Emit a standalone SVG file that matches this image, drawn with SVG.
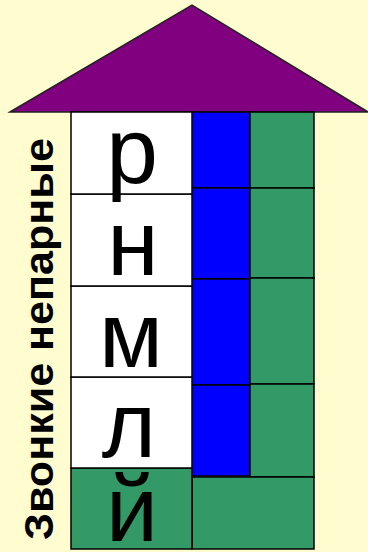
<svg xmlns="http://www.w3.org/2000/svg" width="368" height="552" viewBox="0 0 368 552">
<style>
.c{stroke:#000;stroke-width:1.5}
.w{fill:#fff}
.b{fill:#0000ff}
.g{fill:#339966}
.big{font-family:"Liberation Sans",Arial,sans-serif;font-size:93px;fill:#000;text-anchor:middle}
.side{font-family:"Liberation Sans",Arial,sans-serif;font-size:40px;font-weight:bold;fill:#000}
</style>
<defs>
<clipPath id="clipY"><rect x="71" y="468" width="121" height="81"/></clipPath>
</defs>
<rect x="0" y="0" width="368" height="552" fill="#fffcd0"/>
<g id="roof">
<polygon points="10,112 192,5 368,112" fill="#800080" stroke="#222" stroke-width="1.5"/>
</g>
<g id="blue-1"><rect class="c b" x="192" y="112" width="58" height="76"/></g>
<g id="blue-2"><rect class="c b" x="192" y="188" width="58" height="91"/></g>
<g id="blue-3"><rect class="c b" x="192" y="279" width="58" height="106"/></g>
<g id="blue-4"><rect class="c b" x="192" y="385" width="58" height="91"/></g>
<g id="green-1"><rect class="c g" x="250" y="112" width="64" height="76"/></g>
<g id="green-2"><rect class="c g" x="250" y="188" width="64" height="90"/></g>
<g id="green-3"><rect class="c g" x="250" y="278" width="64" height="106"/></g>
<g id="green-4"><rect class="c g" x="250" y="384" width="64" height="93"/></g>
<g id="green-bottom"><rect class="c g" x="192" y="477" width="122" height="72"/></g>
<g id="cell-j">
<rect class="c g" x="71" y="468" width="121" height="81"/>
<text class="big" x="132" y="541" clip-path="url(#clipY)">й</text>
</g>
<g id="cell-l">
<rect class="c w" x="71" y="377" width="121" height="91"/>
<text class="big" x="129" y="457">л</text>
</g>
<g id="cell-m">
<rect class="c w" x="71" y="286" width="121" height="91"/>
<text class="big" x="131" y="367">м</text>
</g>
<g id="cell-n">
<rect class="c w" x="71" y="194" width="121" height="92"/>
<text class="big" x="133" y="275">н</text>
</g>
<g id="cell-r">
<rect class="c w" x="71" y="112" width="121" height="82"/>
<text class="big" x="132" y="183">р</text>
</g>
<g id="label">
<text class="side" transform="translate(53,540) rotate(-90)" textLength="402" lengthAdjust="spacingAndGlyphs">Звонкие непарные</text>
</g>
</svg>
